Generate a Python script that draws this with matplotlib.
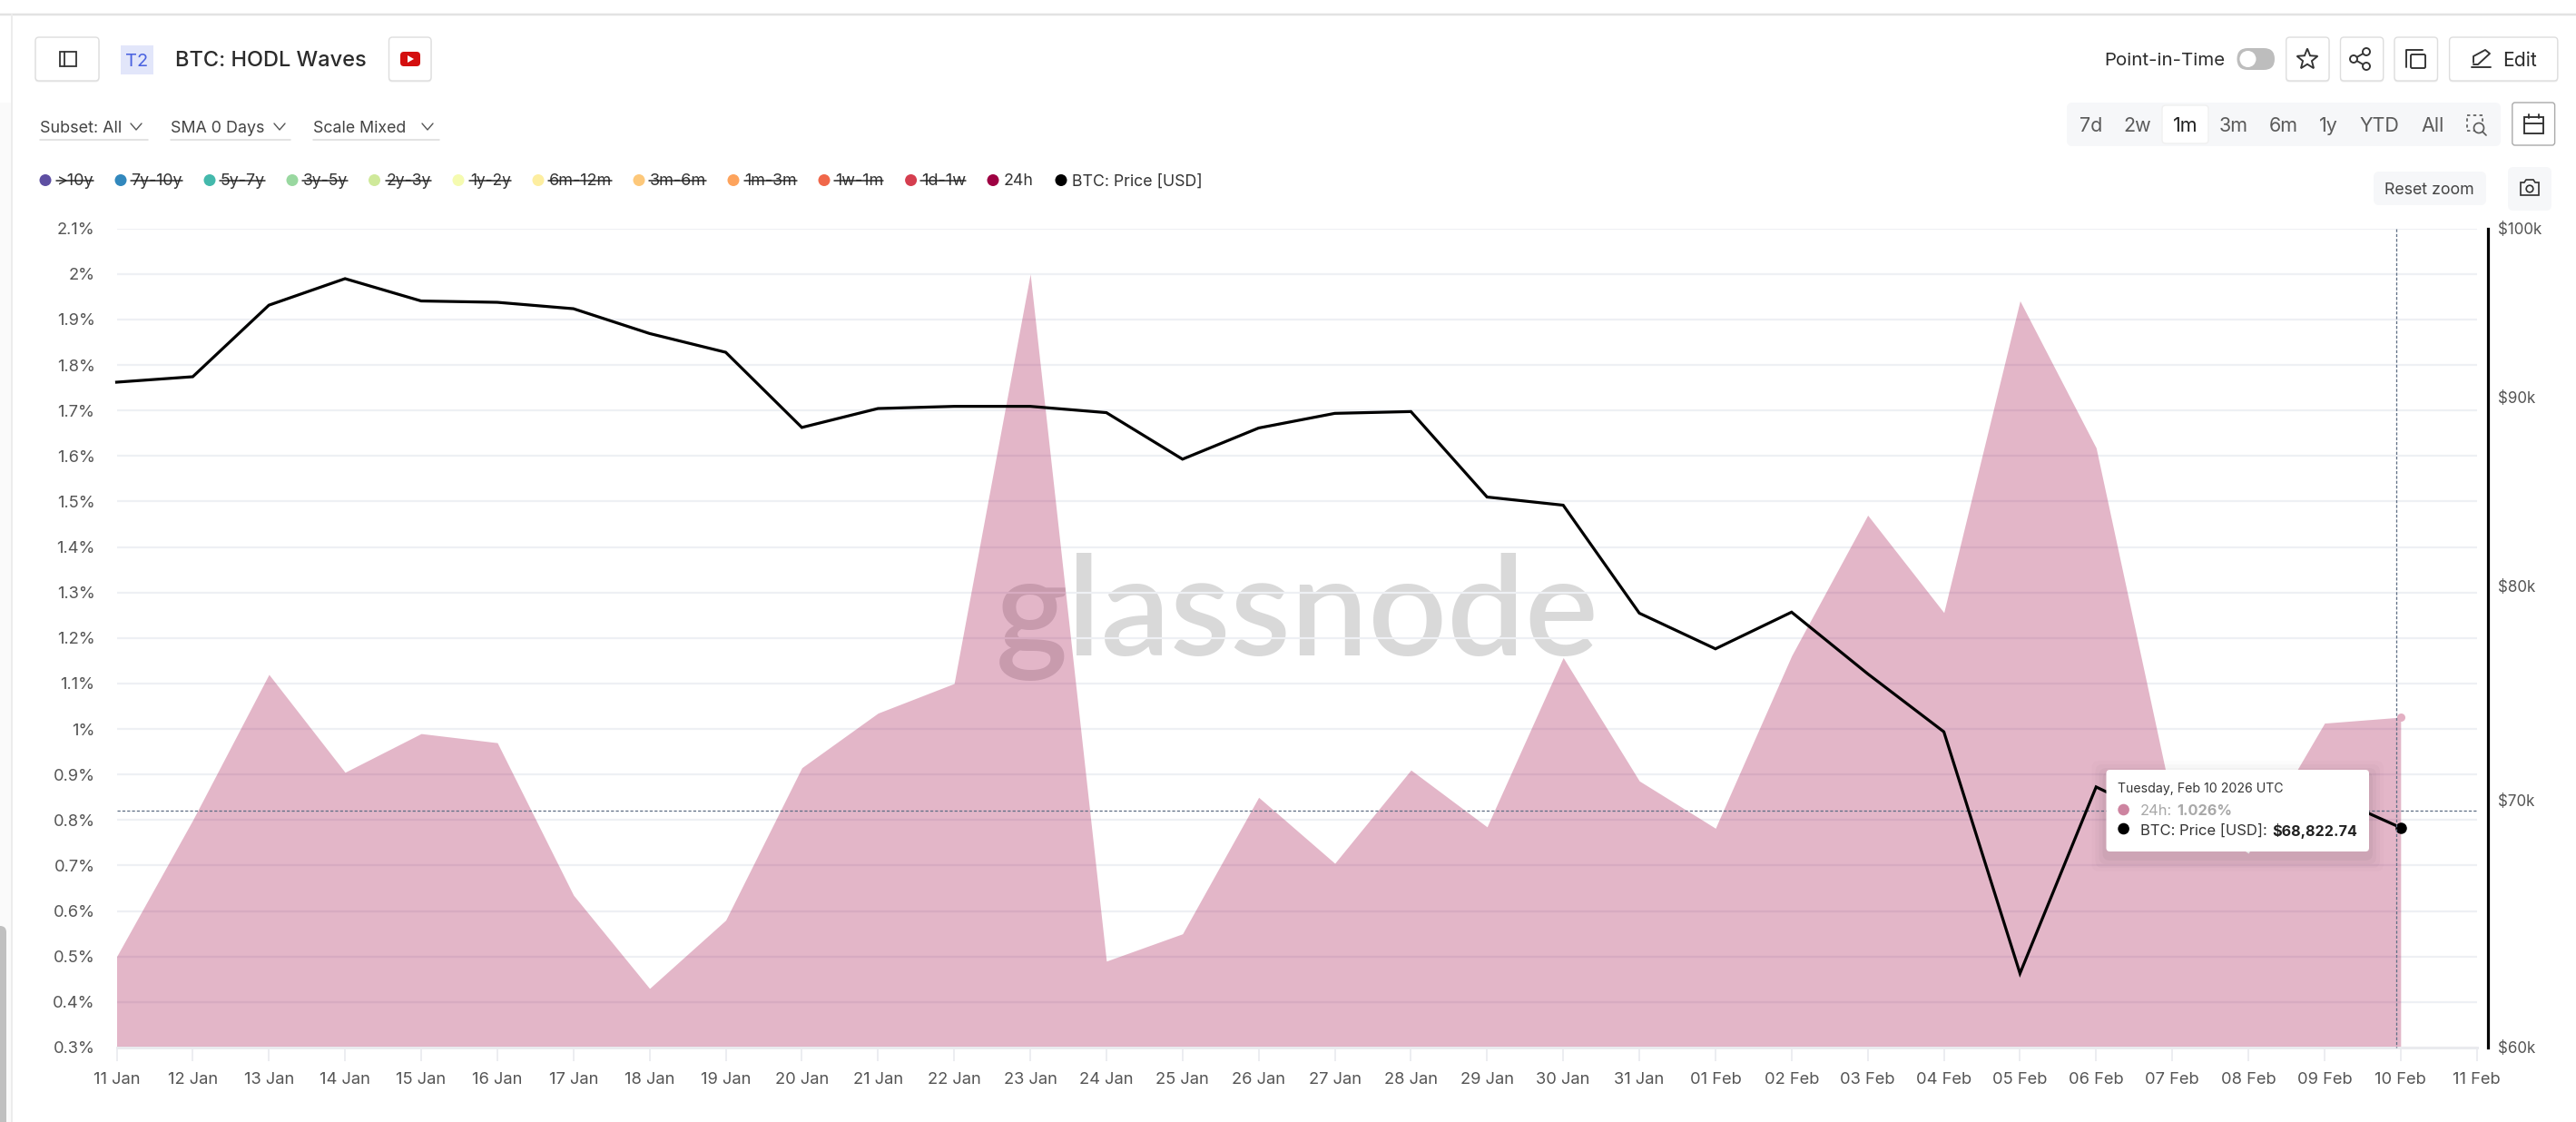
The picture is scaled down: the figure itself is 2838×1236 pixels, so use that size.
import matplotlib
matplotlib.use("Agg")
import matplotlib.pyplot as plt
import matplotlib.dates as mdates
from matplotlib.patches import FancyBboxPatch, Circle, Rectangle, Polygon
from matplotlib.ticker import FixedLocator, FixedFormatter, NullLocator
import datetime as dt
import numpy as np

W, H = 2838, 1236
FONT = ["Inter", "Noto Sans", "DejaVu Sans"]
plt.rcParams["font.family"] = FONT

# ---------- data ----------
start_date = dt.date(2026, 1, 11)
n_days = 31
dates = [start_date + dt.timedelta(days=i) for i in range(n_days)]
hodl_24h = [0.50, 0.80, 1.12, 0.905, 0.99, 0.97, 0.635, 0.43, 0.58, 0.915,
            1.035, 1.10, 2.00, 0.49, 0.55, 0.85, 0.705, 0.91, 0.785, 1.157,
            0.886, 0.782, 1.161, 1.47, 1.256, 1.941, 1.618, 0.84, 0.727, 1.013, 1.026]
btc_price = [90.86, 91.17, 95.33, 96.92, 95.58, 95.5, 95.12, 93.66, 92.57, 88.33,
             89.38, 89.5, 89.5, 89.15, 86.6, 88.3, 89.11, 89.21, 84.58, 84.15,
             78.67, 76.94, 78.72, 75.75, 73.06, 62.84, 70.59, 69.0, 69.4, 70.3, 68.82]
price_unit = 1000
y_ticks = [0.3 + 0.1 * i for i in range(19)]
y_labels = ["0.3%", "0.4%", "0.5%", "0.6%", "0.7%", "0.8%", "0.9%", "1%", "1.1%", "1.2%",
            "1.3%", "1.4%", "1.5%", "1.6%", "1.7%", "1.8%", "1.9%", "2%", "2.1%"]
price_ticks = [60000, 70000, 80000, 90000, 100000]
price_labels = ["$60k", "$70k", "$80k", "$90k", "$100k"]
legend_names = [">10y", "7y-10y", "5y-7y", "3y-5y", "2y-3y", "1y-2y", "6m-12m",
                "3m-6m", "1m-3m", "1w-1m", "1d-1w", "24h", "BTC: Price [USD]"]
legend_colors = ["#5e4fa2", "#3288bd", "#44b9ac", "#99d8a0", "#cfe99a", "#f5fbb0", "#fdeea0",
                 "#fdc87a", "#fda35c", "#f0674a", "#d53e4f", "#9e0142", "#000000"]
legend_off = [True] * 11 + [False, False]
ranges = ["7d", "2w", "1m", "3m", "6m", "1y", "YTD", "All"]

fig = plt.figure(figsize=(W / 100, H / 100), dpi=100, facecolor="white")
renderer = fig.canvas.get_renderer()
def pt(p):
    return p * 0.72

L, R, T, B = 128.5, 2728.7, 251.7, 1154.0
ax = fig.add_axes([L / W, 1 - B / H, (R - L) / W, (B - T) / H], zorder=2)
ax2 = ax.twinx()
ax2.set_zorder(3)
ax.patch.set_visible(False)
ax2.patch.set_visible(False)
ov = fig.add_axes([0, 0, 1, 1], zorder=10)
ov.set_xlim(0, W)
ov.set_ylim(H, 0)
ov.axis("off")
ov.patch.set_visible(False)

def fit(t, width):
    t.set_fontsize(t.get_fontsize() * width / t.get_window_extent(renderer).width)
    return t

# ---------- main chart ----------
x = mdates.date2num(dates)
ax.set_xlim(x[0], x[-1] + 1)
ax.set_ylim(0.3, 2.1)
ax.fill_between(x, 0.3, hodl_24h, color="#9e0142", alpha=0.285, lw=0, zorder=2)
ax.set_axisbelow(True)
ax.yaxis.set_major_locator(FixedLocator(y_ticks))
ax.yaxis.set_major_formatter(FixedFormatter(y_labels))
ax.yaxis.set_minor_locator(NullLocator())
ax.grid(axis="y", color="#eef0f4", lw=pt(2.2))
ax.grid(axis="x", visible=False)
ax.xaxis.set_major_locator(mdates.DayLocator())
ax.xaxis.set_major_formatter(mdates.DateFormatter("%d %b"))
ax.tick_params(axis="x", length=pt(15), width=pt(1.6), color="#e8e9ee", labelsize=pt(18.3),
               labelcolor="#555555", pad=pt(12))
ax.tick_params(axis="y", length=0, labelsize=pt(18.3), labelcolor="#555555", pad=pt(24))
for s in ["top", "left", "right"]:
    ax.spines[s].set_visible(False)
ax.spines["bottom"].set_color("#e9eaee")
ax.spines["bottom"].set_linewidth(pt(3))

ax2.set_yscale("log")
ax2.set_ylim(60000, 100000)
ax2.plot(x, np.array(btc_price) * price_unit, color="black", lw=pt(3.2), solid_joinstyle="miter", clip_on=False, zorder=4)
ax2.yaxis.set_major_locator(FixedLocator(price_ticks))
ax2.yaxis.set_major_formatter(FixedFormatter(price_labels))
ax2.yaxis.set_minor_locator(NullLocator())
ax2.tick_params(axis="y", length=0, labelsize=pt(17), labelcolor="#555555", pad=pt(11))
for s in ["top", "left", "bottom"]:
    ax2.spines[s].set_visible(False)
ax2.spines["right"].set_position(("outward", pt(12.5)))
ax2.spines["right"].set_color("black")
ax2.spines["right"].set_linewidth(pt(3.2))

# watermark behind the grid
wm = ax.text(1097, 722, "glassnode", transform=ov.transData, fontsize=pt(150), color="black", alpha=0.15,
             family=["Lato", "DejaVu Sans"], fontweight="semibold", va="baseline", ha="left", zorder=0.2, clip_on=False)
fit(wm, 665)

# crosshair and hover markers
dash = (0, (2.5, 1.6))
ax.axhline(0.3 + (B - 893.3) / 501.5, color="#5f6f85", lw=pt(1.3), ls=dash, zorder=5)
ov.plot([2639.6, 2639.6], [T, B], color="#5f6f85", lw=pt(1.3), ls=dash, zorder=1)
ax.plot(x[-1], hodl_24h[-1], "o", color="#e3b0c3", ms=pt(9), mew=0, zorder=6, clip_on=False)
ax2.plot(x[-1], btc_price[-1] * price_unit, "o", color="black", ms=pt(12.5), mew=0, zorder=6, clip_on=False)

# ---------- helpers for page chrome ----------
def box(x0, y0, x1, y1, fc="white", ec="#dedede", r=4, lw=1.4, z=2):
    ov.add_patch(FancyBboxPatch((x0 + r, y0 + r), x1 - x0 - 2 * r, y1 - y0 - 2 * r,
                                boxstyle=f"round,pad={r},rounding_size={r}", fc=fc, ec=ec, lw=pt(lw), zorder=z))

def btn(x0, y0, x1, y1):
    box(x0 - 0.5, y0 + 1.5, x1 + 0.5, y1 + 1.5, fc="#eeeeee", ec="none", z=1.5)
    box(x0, y0, x1, y1)

def txt(x0, y0, s, size, color="#333333", ha="left", weight="normal", z=6, w=None, **k):
    t = ov.text(x0, y0, s, fontsize=pt(size), color=color, ha=ha, va="center_baseline",
                fontweight=weight, zorder=z, **k)
    if w:
        fit(t, w)
    return t

def line(xs, ys, color="#333333", lw=2, z=6, **k):
    ov.plot(xs, ys, color=color, lw=pt(lw), zorder=z, solid_capstyle="round", solid_joinstyle="round", **k)

# page frame
ov.add_patch(Rectangle((0, 113), 13, H - 113, fc="#fafafa", ec="none", zorder=0.5))
line([0, W], [16, 16], "#e3e3e3", 2.5, z=1)
line([13, 13], [16, H], "#ececec", 2, z=1)
ov.add_patch(FancyBboxPatch((-8, 1020), 15, 230, boxstyle="round,pad=0,rounding_size=7", fc="#c0c0c0", ec="none", zorder=1))

# header left
btn(39, 41, 109, 89)
ov.add_patch(Rectangle((66, 57), 18, 16, fc="none", ec="#333333", lw=pt(1.8), zorder=6))
line([71, 71], [57, 73], "#333333", 1.8)
ov.add_patch(Rectangle((133, 50), 36, 32, fc="#e2e6fa", ec="none", zorder=4))
txt(151, 66, "T2", 20, "#4a62e0", ha="center")
txt(193, 64.5, "BTC: HODL Waves", 24, "#2b2b2b", weight="medium", w=210.5)
btn(428.5, 41, 475, 89)
box(441, 57, 463, 73, fc="#d40e0e", ec="none", r=4, z=5)
ov.add_patch(Polygon([[449, 61], [449, 69], [456, 65]], fc="white", ec="none", zorder=6))

# dropdowns
for s, x0, x1t, xc, x1 in [("Subset: All", 44, 134, 150, 163), ("SMA 0 Days", 187.5, 291, 308, 320),
                           ("Scale Mixed", 344.6, 447, 471, 484)]:
    txt(x0, 139, s, 20, "#444444", w=x1t - x0)
    line([xc - 6, xc, xc + 6], [136, 143, 136], "#555555", 1.4)
    line([x0, x1], [154, 154], "#dddddd", 1.6)

# legend
leg_dot = [50, 133, 231, 322, 412.5, 505, 593, 704, 808, 908, 1003.6, 1094, 1169]
leg_txt = [62.5, 144.6, 243, 334, 426, 518, 605, 716, 820.5, 920, 1015, 1106, 1181]
leg_end = [103, 201, 292, 383, 475, 562.5, 674, 778, 878, 973, 1064, 1139, 1325]
for i, (n, c, off) in enumerate(zip(legend_names, legend_colors, legend_off)):
    ov.add_patch(Circle((leg_dot[i], 198.5), 6.5, fc=c, ec="none", zorder=5))
    txt(leg_txt[i], 198, n, 18.5, "#333333", w=leg_end[i] - leg_txt[i])
    if off:
        line([leg_txt[i] - 1, leg_end[i]], [199, 199], "#222222", 1.5, z=7)

# header right
txt(2318, 65, "Point-in-Time", 23, "#2b2b2b", w=133)
box(2464.5, 53, 2506, 77, fc="#bdbdbd", ec="none", r=12, z=4)
ov.add_patch(Circle((2476.5, 65), 9, fc="white", ec="none", zorder=5))
for x0, x1 in [(2518.7, 2566), (2578.5, 2625.7), (2638, 2685.5), (2698.6, 2817.8)]:
    btn(x0, 41, x1, 89)
# star
a = np.deg2rad(np.arange(0, 360, 36) - 90)
rad = np.where(np.arange(10) % 2 == 0, 12, 5.2)
ov.add_patch(Polygon(np.c_[2542 + rad * np.cos(a), 65.5 + rad * np.sin(a)], fc="none", ec="#333333", lw=pt(1.9), zorder=6))
# share
sx, sy = [2607, 2593, 2607], [57, 65, 73]
line(sx, sy, "#333333", 1.9)
for a0, b0 in zip(sx, sy):
    ov.add_patch(Circle((a0, b0), 4, fc="white", ec="#333333", lw=pt(1.9), zorder=7))
# copy
line([2651, 2651, 2669], [74, 55, 55], "#333333", 1.9)
ov.add_patch(FancyBboxPatch((2656, 60), 16, 15, boxstyle="round,pad=0,rounding_size=1.5", fc="white", ec="#333333", lw=pt(1.9), zorder=6))
# edit
line([2725, 2725, 2738, 2743, 2730, 2725], [69, 62, 55, 59, 71, 71], "#333333", 1.9)
line([2723, 2744], [73.5, 73.5], "#333333", 1.9)
txt(2757.6, 65, "Edit", 23, "#2b2b2b", w=37.5)

# range selector
box(2277, 113, 2755, 161, fc="#f6f7f9", ec="none", r=6, z=2)
box(2382, 116, 2433, 158, fc="white", ec="#f0f0f0", r=4, z=3)
for s, xc in zip(ranges, [2303.8, 2354.7, 2407.6, 2460.5, 2515.4, 2565.5, 2621.6, 2679.9]):
    txt(xc, 137, s, 21.5, "#222222" if s == "1m" else "#5b5b5b", ha="center")
# zoom-region icon
ov.add_patch(Rectangle((2718, 127), 17, 17, fc="none", ec="#5b5b5b", lw=pt(1.7), ls=(0, (2, 2)), zorder=5))
ov.add_patch(Circle((2731, 141), 5.5, fc="#f6f7f9", ec="#5b5b5b", lw=pt(1.7), zorder=6))
line([2735, 2739], [145, 149], "#5b5b5b", 1.7)
# calendar
box(2767.8, 113, 2814.6, 160, fc="white", ec="#aaaaaa", r=3)
ov.add_patch(Rectangle((2780.5, 129), 21, 18, fc="none", ec="#333333", lw=pt(1.9), zorder=6))
line([2780.5, 2801.5], [135.5, 135.5], "#333333", 1.9)
line([2785.5, 2785.5], [126, 130], "#333333", 1.9)
line([2796.5, 2796.5], [126, 130], "#333333", 1.9)
# reset zoom and camera
box(2615, 189, 2739, 226, fc="#f6f7f9", ec="none", r=6)
txt(2627, 207, "Reset zoom", 19, "#444444", w=99)
box(2763, 184, 2811, 232, fc="#f6f7f9", ec="none", r=6)
ov.add_patch(Polygon([[2777, 201], [2781, 201], [2783, 198], [2791, 198], [2793, 201], [2797, 201], [2797, 215], [2777, 215]],
                     fc="none", ec="#333333", lw=pt(1.7), zorder=6))
ov.add_patch(Circle((2787, 208), 3.8, fc="none", ec="#333333", lw=pt(1.7), zorder=6))

# tooltip
for i, a_ in enumerate([0.012, 0.018, 0.025, 0.035]):
    g = 16 - i * 4
    box(2320.5 - g, 848 - g + 6, 2610 + g, 938 + g + 6, fc="black", ec="none", r=8, z=7)
    ov.patches[-1].set_alpha(a_)
box(2320.5, 848, 2610, 938, fc="white", ec="none", r=4, z=8)
txt(2332.7, 868, "Tuesday, Feb 10 2026 UTC", 16.5, "#333333", z=9, w=182)
ov.add_patch(Circle((2339.6, 892), 6.3, fc="#cd84a0", ec="none", zorder=9))
ov.add_patch(Circle((2339.6, 913), 6.3, fc="black", ec="none", zorder=9))
txt(2358, 892.5, "24h:", 18, "#a8a8a8", z=9, w=35)
txt(2398.6, 892.5, "1.026%", 18, "#a8a8a8", weight="bold", z=9, w=61)
txt(2358, 913.5, "BTC: Price [USD]:", 18, "#333333", z=9, w=140)
txt(2503, 913.5, "$68,822.74", 18, "#222222", weight="bold", z=9, w=94)

fig.savefig("out.png", dpi=100)
